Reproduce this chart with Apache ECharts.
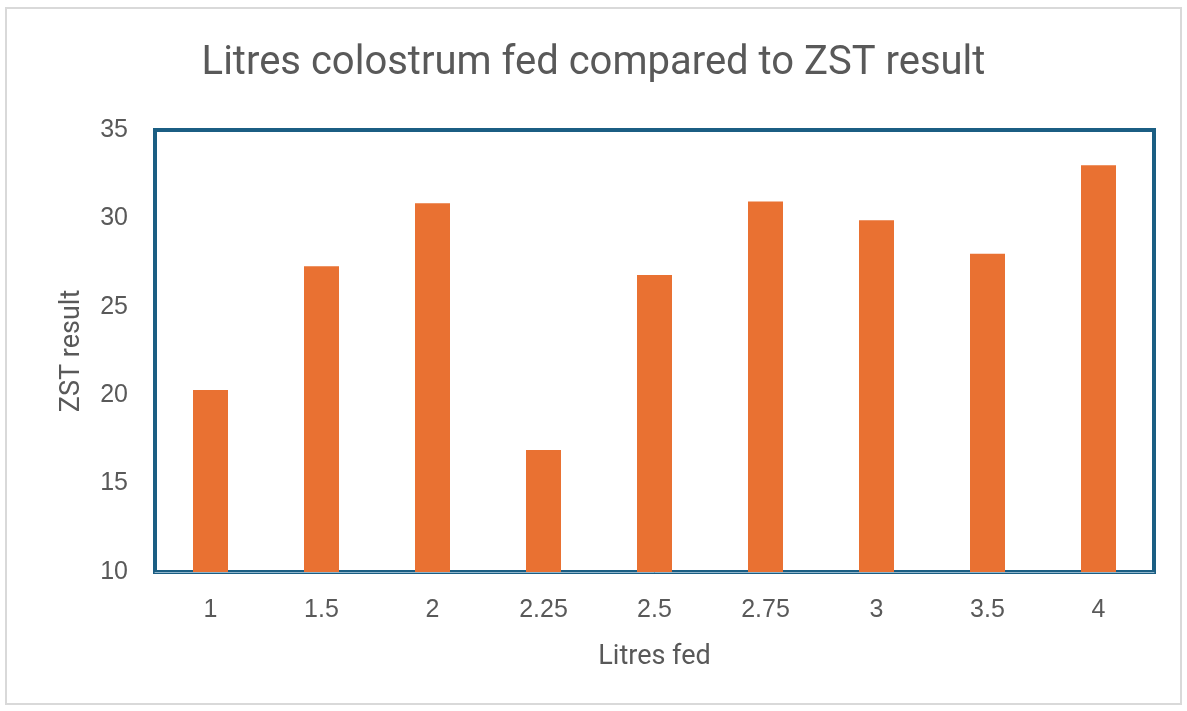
<!DOCTYPE html>
<html>
<head>
<meta charset="utf-8">
<script src="https://cdn.jsdelivr.net/npm/echarts@6/dist/echarts.min.js"></script>
<style>
  html, body { margin: 0; padding: 0; background: #fff; }
  #chart { width: 1187px; height: 711px; }
</style>
</head>
<body>
<div id="chart"></div>
<script>
const litres = ['1', '1.5', '2', '2.25', '2.5', '2.75', '3', '3.5', '4']
const zstResult = [20.3, 27.3, 30.85, 16.9, 26.8, 30.95, 29.9, 28.0, 33.0]
const yTicks = { min: 10, max: 35, interval: 5 }

const chart = echarts.init(document.getElementById('chart'), null, { renderer: 'canvas' })

const titleFont = 'Roboto, "Liberation Sans", sans-serif'
const tickFont = '"Liberation Sans", Arial, sans-serif'

chart.setOption({
  animation: false,
  backgroundColor: '#fff',
  graphic: [{
    type: 'rect',
    shape: { x: 6, y: 8, width: 1175, height: 696 },
    style: { fill: 'none', stroke: '#d9d9d9', lineWidth: 2 },
    silent: true
  }],
  title: {
    text: 'Litres colostrum fed compared to ZST result',
    left: 'center',
    top: 39,
    textStyle: { fontFamily: titleFont, fontSize: 40, fontWeight: 'normal', color: '#595959' }
  },
  grid: {
    left: 155, right: 33, top: 130, bottom: 139,
    show: true,
    borderColor: '#1B5E83',
    borderWidth: 4,
    backgroundColor: 'transparent'
  },
  xAxis: {
    type: 'category',
    data: litres,
    name: 'Litres fed',
    nameLocation: 'middle',
    nameGap: 72,
    nameTextStyle: { fontFamily: titleFont, fontSize: 27, color: '#595959' },
    axisTick: { show: false },
    axisLine: { show: true, lineStyle: { color: '#8fb5cc', width: 1 } },
    axisLabel: { fontFamily: tickFont, fontSize: 25, color: '#595959', margin: 26 }
  },
  yAxis: {
    type: 'value',
    min: yTicks.min,
    max: yTicks.max,
    interval: yTicks.interval,
    name: 'ZST result',
    nameLocation: 'middle',
    nameGap: 69,
    nameTextStyle: { fontFamily: titleFont, fontSize: 27, color: '#595959' },
    splitLine: { show: false },
    axisLine: { show: false },
    axisTick: { show: false },
    axisLabel: { fontFamily: tickFont, fontSize: 25, color: '#595959', margin: 27 }
  },
  series: [{
    type: 'bar',
    data: zstResult,
    barWidth: 35,
    itemStyle: { color: '#E97132' }
  }]
})
</script>
</body>
</html>
